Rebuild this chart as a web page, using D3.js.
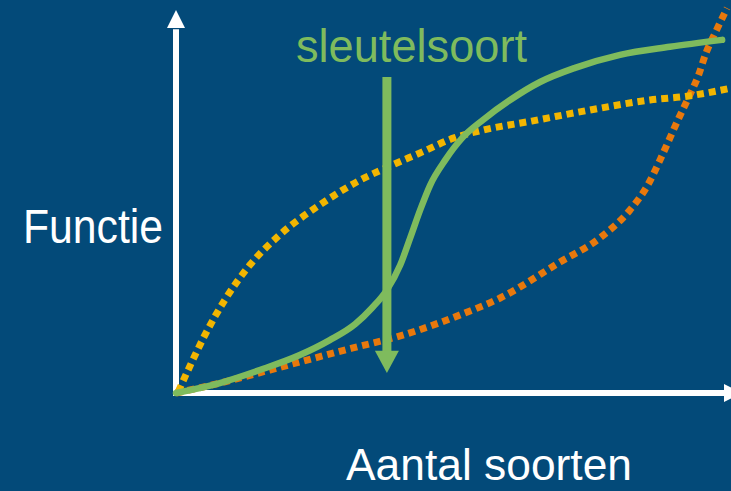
<!DOCTYPE html>
<html>
<head>
<meta charset="utf-8">
<script src="https://cdn.jsdelivr.net/npm/d3@7"></script>
<style>
  html, body { margin: 0; padding: 0; background: #034a79; }
  svg { display: block; }
  text { font-family: "Liberation Sans Narrow", "Liberation Sans", Arial, sans-serif; }
</style>
</head>
<body>
<div id="chart"></div>
<script>
// curves, x = aantal soorten (0-100), y = functie (0-100)
var yellowX = [0.4, 2.5, 5.2, 8.8, 13.3, 18.7, 25.9, 33.2, 37.7, 44.3, 50.1, 55.5, 64.1, 74.6, 85.4, 92.1, 100];
var yellowY = [0.3, 7.0, 15.1, 24.3, 33.4, 41.3, 49.1, 55.6, 58.7, 62.9, 66.6, 68.7, 71.0, 73.9, 76.5, 77.5, 79.6];

var orangeX = [0, 8.8, 16.9, 31.7, 40.4, 51.2, 58.4, 69.2, 76.4, 81.8, 85.0, 87.2, 89.0, 90.6, 92.3, 94.1, 95.5, 97.3, 99.3];
var orangeY = [0, 2.9, 6.0, 11.7, 14.9, 20.4, 24.8, 34.2, 40.5, 47.8, 54.3, 60.8, 66.6, 71.8, 77.0, 82.8, 88.8, 94.5, 100.5];

var greenX = [0, 7.9, 15.1, 22.3, 27.7, 32.3, 35.3, 38.0, 40.4, 42.2, 44.0, 45.8, 48.5, 51.7, 55.3, 60.2, 65.6, 71.9, 80.0, 89.0, 98.4];
var greenY = [0, 2.6, 6.0, 9.9, 13.8, 18.0, 22.2, 26.9, 33.4, 40.5, 47.8, 54.3, 60.8, 66.8, 71.3, 76.5, 81.2, 84.9, 88.3, 90.4, 92.2];

var keyX = 38.0;          // sleutelsoort arrow position
var keyTop = 82.5, keyHead = 11.0, keyTip = 5.2;

var width = 731, height = 491;

var svg = d3.select("#chart").append("svg")
    .attr("width", width)
    .attr("height", height);

svg.append("rect")
    .attr("width", width)
    .attr("height", height)
    .attr("fill", "#034a79");

var x = d3.scaleLinear().domain([0, 100]).range([176, 731]);
var y = d3.scaleLinear().domain([0, 100]).range([393, 10]);

function zip(xs, ys) {
  return xs.map(function(d, i){ return [d, ys[i]]; });
}

var line = d3.line()
    .x(function(d){ return x(d[0]); })
    .y(function(d){ return y(d[1]); })
    .curve(d3.curveMonotoneX);

// axes
svg.append("line")
    .attr("x1", x(0)).attr("y1", y(0) + 3)
    .attr("x2", x(0)).attr("y2", y(95))
    .attr("stroke", "#fff").attr("stroke-width", 6);

svg.append("path")
    .attr("d", "M" + x(0) + "," + y(100) + "L" + (x(0) - 9) + "," + (y(100) + 18) + "L" + (x(0) + 9) + "," + (y(100) + 18) + "Z")
    .attr("fill", "#fff");

svg.append("line")
    .attr("x1", x(0) - 3).attr("y1", y(0))
    .attr("x2", x(100)).attr("y2", y(0))
    .attr("stroke", "#fff").attr("stroke-width", 6);

svg.append("path")
    .attr("d", "M" + (x(100) + 11) + "," + y(0) + "L" + (x(100) - 7) + "," + (y(0) - 9) + "L" + (x(100) - 7) + "," + (y(0) + 9) + "Z")
    .attr("fill", "#fff");

// curves
svg.append("path")
    .datum(zip(orangeX, orangeY))
    .attr("d", line)
    .attr("fill", "none")
    .attr("stroke", "#e8780c")
    .attr("stroke-width", 7)
    .attr("stroke-dasharray", "7,5");

svg.append("path")
    .datum(zip(yellowX, yellowY))
    .attr("d", line)
    .attr("fill", "none")
    .attr("stroke", "#f2b500")
    .attr("stroke-width", 7)
    .attr("stroke-dasharray", "7,5");

svg.append("path")
    .datum(zip(greenX, greenY))
    .attr("d", line)
    .attr("fill", "none")
    .attr("stroke", "#7fbb5d")
    .attr("stroke-width", 6.5)
    .attr("stroke-linecap", "round");

// sleutelsoort arrow
svg.append("line")
    .attr("x1", x(keyX)).attr("y1", y(keyTop))
    .attr("x2", x(keyX)).attr("y2", y(keyHead) + 1)
    .attr("stroke", "#7fbb5d").attr("stroke-width", 9);

svg.append("path")
    .attr("d", "M" + (x(keyX) - 12) + "," + y(keyHead) + "L" + (x(keyX) + 12) + "," + y(keyHead) + "L" + x(keyX) + "," + y(keyTip) + "Z")
    .attr("fill", "#7fbb5d");

// labels
svg.append("text")
    .attr("x", 296).attr("y", 62)
    .attr("font-size", 47)
    .attr("fill", "#7fbb5d")
    .attr("textLength", 231)
    .attr("lengthAdjust", "spacingAndGlyphs")
    .text("sleutelsoort");

svg.append("text")
    .attr("x", 23).attr("y", 243)
    .attr("font-size", 48)
    .attr("fill", "#fff")
    .attr("textLength", 140)
    .attr("lengthAdjust", "spacingAndGlyphs")
    .text("Functie");

svg.append("text")
    .attr("x", 346).attr("y", 480)
    .attr("font-size", 45)
    .attr("fill", "#fff")
    .attr("textLength", 286)
    .attr("lengthAdjust", "spacingAndGlyphs")
    .text("Aantal soorten");
</script>
</body>
</html>
